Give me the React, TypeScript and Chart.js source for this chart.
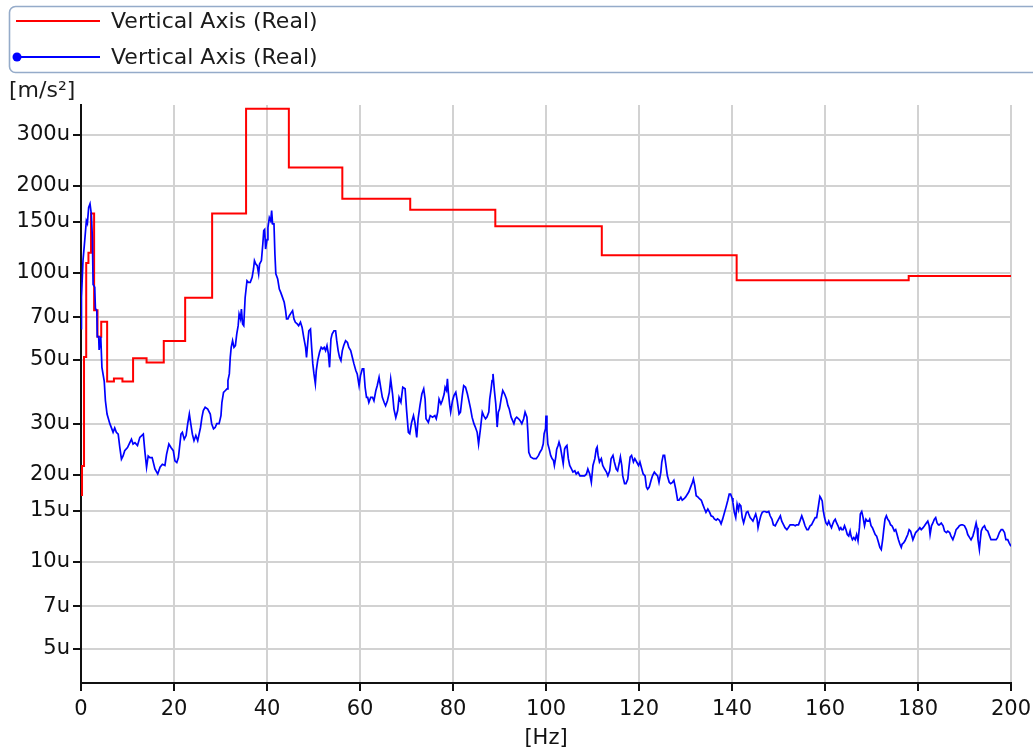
import React, { useEffect, useRef } from "react";
import { Chart, registerables } from "chart.js";

Chart.register(...registerables);

const FONT_FAMILY = '"DejaVu Sans", Verdana, sans-serif';
const FONT_SIZE = 21;
const LEGEND_FONT_SIZE = 22;

const seriesLabels = ["Vertical Axis (Real)", "Vertical Axis (Real)"];
const seriesColors = ["#ff0000", "#0000ff"];
const yUnitLabel = "[m/s²]";
const xUnitLabel = "[Hz]";
const yTickValues = [5, 7, 10, 15, 20, 30, 50, 70, 100, 150, 200, 300];
const yMin = 3.8;
const yMax = 380;
const xMin = 0;
const xMax = 200;
const xStep = 20;

// Red: third-octave band levels (u m/s²), held from each edge to the next
const bandEdgesHz = [
  0, 0.22, 0.65, 1.12, 1.6, 2.15, 2.82, 3.55, 4.35, 5.62, 7.08, 8.91, 11.2,
  14.1, 17.8, 22.4, 28.2, 35.5, 44.7, 56.2, 70.8, 89.1, 112, 141, 178, 200,
];
const bandLevels = [
  17, 21.4, 51, 108, 117, 160, 74, 60, 67.6, 42, 43, 42, 50.5, 48.8, 58, 81.8,
  160, 369, 231, 180, 165, 144.5, 114.7, 94.1, 97.3,
];

// Blue: narrow-band spectrum (u m/s²)
const spectrumHz = [
  0, 0.1, 0.43, 0.8, 1.15, 1.37, 1.65, 1.94, 2.23, 2.45, 2.6, 2.95, 3.1, 3.4,
  3.5, 3.8, 3.9, 4.25, 4.5, 5.0, 5.25, 5.6, 6.2, 6.55, 6.9, 7.25, 7.6, 8.0,
  8.35, 8.7, 9.05, 9.4, 10.0, 10.5, 10.85, 11.2, 11.6, 12.15, 12.65, 13.4,
  13.75, 14.1, 14.45, 14.8, 15.3, 15.9, 16.5, 17.0, 17.5, 18.05, 18.4, 18.9,
  19.35, 19.85, 20.2, 20.6, 20.95, 21.5, 21.8, 22.2, 22.6, 22.95, 23.3, 23.6,
  23.95, 24.3, 24.7, 25.1, 25.4, 25.7, 26.0, 26.3, 26.7, 27.25, 27.8, 28.1,
  28.5, 28.85, 29.2, 29.7, 30.1, 30.3, 30.65, 31.0, 31.4, 31.6, 31.9, 32.1,
  32.3, 32.6, 32.9, 33.2, 33.5, 33.8, 34.0, 34.3, 34.5, 34.75, 35.0, 35.3,
  35.7, 36.0, 36.4, 36.8, 37.1, 37.3, 37.6, 37.9, 38.2, 38.4, 38.8, 39.1,
  39.3, 39.5, 39.7, 40.0, 40.2, 40.5, 40.8, 41.0, 41.2, 41.5, 41.7, 41.9,
  42.3, 42.65, 42.95, 43.2, 43.7, 44.0, 44.2, 44.5, 44.8, 45.25, 45.5, 45.8,
  46.1, 46.5, 46.8, 47.2, 47.55, 47.9, 48.3, 48.5, 48.8, 49.0, 49.35, 49.6,
  49.85, 50.1, 50.4, 50.6, 50.9, 51.3, 51.65, 52.0, 52.3, 52.6, 52.9, 53.2,
  53.45, 53.75, 54.0, 54.4, 54.75, 55.0, 55.3, 55.6, 55.9, 56.2, 56.5, 56.9,
  57.3, 57.6, 58.0, 58.35, 58.7, 59.1, 59.4, 59.8, 60.1, 60.5, 60.8, 61.1,
  61.4, 61.65, 61.9, 62.3, 62.7, 63.0, 63.4, 63.7, 64.1, 64.5, 64.8, 65.2,
  65.5, 65.9, 66.3, 66.6, 67.0, 67.3, 67.7, 68.1, 68.4,
  68.8, 69.2, 69.7, 70.0, 70.4, 70.7, 71.1, 71.5, 71.8, 72.2, 72.5, 72.9,
  73.3, 73.7, 74.0, 74.2, 74.7, 75.1, 75.6, 76.1, 76.4, 76.7, 77.0, 77.4,
  77.7, 78.1, 78.3, 78.6, 78.8, 79.0, 79.3, 79.5, 79.9, 80.2, 80.6, 80.9,
  81.3, 81.6, 82.0, 82.3, 82.7, 83.1, 83.4, 83.8, 84.1, 84.5, 84.8, 85.2,
  85.5, 85.9, 86.3, 86.6, 87.0, 87.3, 87.7, 87.9, 88.2, 88.4, 88.6, 88.9,
  89.2, 89.5, 89.75, 90.0, 90.4, 90.7, 91.1, 91.5, 91.8, 92.1, 92.5, 92.8,
  93.1, 93.4, 93.7, 94.1, 94.4, 94.8, 95.2, 95.5, 95.9, 96.1, 96.3, 96.7,
  97.3, 97.9, 98.4, 98.7, 99.1, 99.4, 99.6, 99.9, 100.0, 100.2, 100.4, 100.7,
  101.0, 101.3, 101.6, 101.8, 102.1, 102.3, 102.6, 102.8, 103.1, 103.4,
  103.7, 104.0, 104.2, 104.5, 104.8, 105.1, 105.5, 105.8, 106.2, 106.5,
  106.9, 107.3, 107.8, 108.3, 108.7, 109.0, 109.4, 109.75, 110.1, 110.5,
  110.8, 111.0, 111.2, 111.5, 111.9, 112.2, 112.6, 113.0, 113.3, 113.7,
  114.0, 114.4, 114.7, 115.1, 115.4, 115.8, 116.0, 116.3, 116.5, 116.9,
  117.2, 117.6, 117.8, 118.1, 118.4, 118.8, 119.1, 119.5, 119.9, 120.2,
  120.6, 120.9, 121.3, 121.6, 121.85, 122.2, 122.6, 122.9, 123.3, 123.6,
  124.0, 124.3, 124.7, 124.9, 125.2, 125.5, 125.8, 126.1, 126.5, 126.8,
  127.2, 127.5, 127.9, 128.3, 128.6, 129.0, 129.3, 129.7, 130.0, 130.4,
  130.7, 131.1, 131.5, 131.7, 132.0, 132.3, 132.7, 133.0, 133.4, 133.7,
  134.1, 134.4, 134.8, 135.2, 135.5, 135.9, 136.2, 136.6, 136.9, 137.3,
  137.65, 138.0, 138.4, 138.7, 139.1, 139.4,
  139.7, 140.0, 140.2, 140.5, 140.8, 141.1, 141.4, 141.6, 141.9, 142.2,
  142.5, 142.8, 143.1, 143.4, 143.6, 143.9, 144.2, 144.5, 144.8, 145.1,
  145.4, 145.6, 145.9, 146.2, 146.5, 146.8, 147.1, 147.5, 147.9, 148.2,
  148.6, 148.9, 149.3, 149.6, 150.0, 150.4, 150.7, 151.1, 151.4, 151.8,
  152.1, 152.5, 152.9, 153.2, 153.6, 153.9, 154.3, 154.6, 155.0, 155.4,
  155.7, 156.1, 156.4, 156.8, 157.1, 157.5, 157.9, 158.2, 158.6, 158.9,
  159.1, 159.4, 159.6, 159.9, 160.2, 160.5, 160.8, 161.1, 161.4, 161.6,
  161.9, 162.2, 162.5, 162.8, 163.1, 163.4, 163.6, 163.9, 164.2, 164.5,
  164.8, 165.1, 165.4, 165.6, 165.9, 166.2, 166.5, 166.8, 167.1, 167.4,
  167.6, 167.9, 168.2, 168.5, 168.8, 169.1, 169.4, 169.6, 169.9, 170.2,
  170.5, 170.8, 171.1, 171.4, 171.8, 172.1, 172.4, 172.6, 172.9, 173.2,
  173.5, 173.8, 174.1, 174.4, 174.6, 174.9, 175.2, 175.5, 175.8, 176.1,
  176.4, 176.6, 176.9, 177.2, 177.5, 177.8, 178.1, 178.4, 178.6, 178.9,
  179.2, 179.5, 179.8, 180.1, 180.4, 180.7, 181.1, 181.4, 181.8, 182.1,
  182.4, 182.6, 182.9, 183.2, 183.5, 183.8, 184.1, 184.4, 184.6, 185.0,
  185.4, 185.7, 186.1, 186.4, 186.8, 187.1, 187.5, 187.9, 188.2, 188.6,
  188.9, 189.3, 189.6, 190.0, 190.4, 190.7, 191.1, 191.4, 191.8, 192.1,
  192.5, 192.7, 192.9, 193.2, 193.4, 193.6, 193.9, 194.3, 194.6, 195.0,
  195.4, 195.7, 196.1, 196.4, 196.8, 197.1, 197.5, 197.9, 198.2, 198.6,
  198.9, 199.3, 199.6, 200.0,
];
const spectrumLevel = [
  64, 82, 110, 129, 151, 148, 168, 173, 159, 132, 91, 89, 75, 74,
  60, 60, 54, 60, 47, 42, 36, 32.4, 30, 29, 28, 29, 28, 27.6,
  24.8, 22.6, 23.2, 24.2, 24.8, 25.8, 26.5, 25.5, 25.8, 25.2, 26.9, 27.6,
  23.9, 21.2, 23.2, 22.9, 22.9, 20.9, 20.1, 21.2, 21.7, 21.5, 23.5, 25.5,
  24.8, 24.2, 22.3, 22, 22.9, 27.6, 28, 26.5, 27.3, 30, 32.4, 30,
  27.6, 26.2, 27.3, 26.2, 27.6, 29.1, 31.5, 33.3, 34.2, 33.7, 32.4, 30,
  28.8, 29.1, 30, 30, 32, 35.5, 38.5, 39, 39.6, 42.3, 44.6, 50.9,
  55.1, 58.1, 55.1, 55.9, 61.3, 65.5, 71.9, 69.1, 74.8, 66.4, 65.5, 82,
  93.7, 92.5, 92.5, 96.3, 102.9, 110, 107, 105.6, 98.9, 107, 110, 125.6,
  139.7, 141, 120.6, 130, 143, 155, 151, 164, 147.5, 147.5, 116, 99,
  95, 87.7, 85.4, 83.2, 78.9, 73.8, 69.1, 69.1, 70.9, 72.8, 73.8, 69.1,
  67.3, 66.4, 65.5, 67.3, 64.6, 59.7, 55.1, 50.9, 58.1, 62.9, 63.8, 55.1,
  48.3, 44.6, 41.2, 45.8, 49.6, 53, 55.1, 54.4, 55.1, 53.7, 55.9, 52.3,
  47, 58.9, 61.3, 62.9, 62.9, 58.1, 53.7, 50.9, 49.6, 53.7, 55.9, 58.1,
  57.3, 55.1, 53.7, 50.9, 48.3, 45.8, 44.6, 40.6, 44, 46.4, 46.4, 40.1,
  37, 37, 35.5, 37, 37, 36, 39, 40.6, 43.4, 39.6, 37, 35.5,
  34.6, 36, 38.5, 42.8, 38, 33.7, 31.5, 33.3, 37,
  35.6, 40.1, 39.6, 33.7, 28, 27.7, 30.3, 32, 30.3, 26.9, 31.2, 34.7,
  38, 39.6, 36.5, 31.2, 30.3, 32, 31.6, 32, 31.2, 32.9, 36.5, 35.1,
  36.1, 38, 40.1, 39.1, 42.9, 38.5, 34.7, 32.9, 36.1, 37.5, 38.5, 36.1,
  32.4, 32.9, 37.5, 40.6, 40.1, 38, 36.1, 33.7, 31.6, 30, 29.2, 28,
  25.5, 28.8, 32.9, 32, 31.2, 31.6, 32.9, 36.5, 39.6, 42.3, 44.6, 39.1,
  35.1, 29.2, 32.9, 33.7, 37, 39.1, 38, 36.5, 34.7, 33.7, 31.6, 30.8,
  30, 31.2, 31.6, 31.2, 30.8, 30, 31.2, 32.9, 31.6, 28, 23.9, 23,
  22.7, 22.7, 23.3, 23.9, 24.5, 25.5, 27.7, 28.8, 32, 28.4, 25.5, 24.5,
  23.3, 22.7, 22.4, 21.5, 23, 24.5, 25.2, 25.9, 24.9, 23.3,
  21.8, 24.5, 24.9, 25.2, 22.7, 21.5, 20.9, 20.4, 20.6, 20.1,
  20.4, 19.8, 19.8, 19.8, 20.1, 20.9, 20.1, 18.8, 21.5, 22.7,
  24.5, 24.9, 23.3, 22.1, 22.7, 21.5, 20.9, 20.4, 19.8, 20.6,
  22.7, 23.3, 22.1, 20.9, 20.6, 22.1, 23, 21.5, 19.8, 18.6,
  18.6, 19.3, 20.9, 23, 23.3, 22.1, 22.7, 22.1, 21.5, 22.1,
  20.9, 20.1, 19.8, 18.1, 17.8, 18.1, 19.1, 19.8, 20.4, 20.1,
  19.8, 18.8, 20.4, 22.1, 23.3, 23.3, 21.5, 19.8, 18.8, 18.6,
  18.8, 19.1, 17.8, 16.3, 16.3, 16.7, 16.3, 16.5, 16.7, 17.1,
  17.4, 18.1, 18.8, 19.3, 18.3, 16.9, 16.7, 16.5, 16.3, 15.8,
  15.2, 14.8, 15.2, 14.8, 14.4, 14.3, 14.05, 13.9, 14.05, 13.9,
  13.5, 14.05, 14.8, 15.4, 16.3, 17.1,
  17.1, 16.6, 16, 14.8, 14.2, 15.8, 15.1, 15.8, 15.6, 14.2,
  13.6, 14.2, 14.8, 14.9, 14.6, 14.2, 14, 13.8, 14.2, 14.6,
  14, 13.1, 13.8, 14.4, 14.8, 14.9, 14.9, 14.8, 14.9, 14.4,
  14, 13.4, 13.3, 13.6, 14, 14.4, 13.8, 13.4, 13.1, 12.9,
  13.1, 13.4, 13.4, 13.4, 13.3, 13.4, 13.4, 13.8, 14.4, 13.8,
  13.3, 12.9, 12.9, 13.3, 13.4, 13.8, 14.2, 14.2, 15.6, 16.8,
  16.6, 16.2, 15.1, 14.2, 13.6, 13.4, 13.8, 13.4, 13.1, 13.4,
  13.8, 14, 13.6, 13.3, 12.9, 13.1, 12.9, 12.9, 13.3, 12.9,
  12.4, 12.25, 12.75, 12.25, 11.9, 12.1, 11.9, 12.4, 11.8, 13.1,
  14.6, 14.9, 14.2, 13.3, 14, 13.8, 13.8, 14, 13.3, 13.1,
  12.75, 12.4, 12.25, 11.8, 11.2, 11, 11.9, 12.75, 14, 14.4,
  14, 13.8, 13.4, 13.3, 13.1, 12.75, 12.9, 12.4, 11.9, 11.5,
  11.2, 11.5, 11.6, 11.8, 12.1, 12.4, 12.9, 12.75, 12.4, 11.9,
  12.25, 12.6, 12.75, 12.9, 13.1, 12.9, 13.1, 13.3, 13.6, 13.8,
  13.3, 12.4, 13.3, 13.6, 14, 14.2, 13.6, 13.4, 13.4, 13.6,
  13.3, 12.75, 12.6, 12.75, 12.6, 12.25, 11.9, 12.4, 12.9, 13.1,
  13.3, 13.4, 13.4, 13.3, 12.9, 12.4, 12.1, 11.9, 12.25, 12.75,
  13.6, 13.1, 11.9, 11, 11.9, 12.75, 13.1, 13.3, 12.9, 12.75,
  12.25, 11.9, 11.9, 11.9, 11.9, 12.1, 12.6, 12.9, 12.9, 12.6,
  11.9, 11.9, 11.6, 11.3,
];

const overlayPlugin = {
  id: "overlayLegend",
  afterDraw(chart: any) {
    const ctx = chart.ctx as CanvasRenderingContext2D;
    ctx.save();
    // legend frame
    ctx.strokeStyle = "#95abc9";
    ctx.lineWidth = 1.6;
    const bx = 9.5, by = 6.5, bw = 1060, bh = 66, r = 6;
    ctx.beginPath();
    ctx.moveTo(bx + r, by);
    ctx.lineTo(bx + bw - r, by);
    ctx.arcTo(bx + bw, by, bx + bw, by + r, r);
    ctx.lineTo(bx + bw, by + bh - r);
    ctx.arcTo(bx + bw, by + bh, bx + bw - r, by + bh, r);
    ctx.lineTo(bx + r, by + bh);
    ctx.arcTo(bx, by + bh, bx, by + bh - r, r);
    ctx.lineTo(bx, by + r);
    ctx.arcTo(bx, by, bx + r, by, r);
    ctx.closePath();
    ctx.stroke();

    const rows = [21, 57];
    ctx.font = `${LEGEND_FONT_SIZE}px ${FONT_FAMILY}`;
    ctx.textBaseline = "middle";
    ctx.textAlign = "left";
    chart.data.datasets.forEach((ds: any, i: number) => {
      const y = rows[i];
      ctx.strokeStyle = ds.borderColor;
      ctx.lineWidth = 2;
      ctx.beginPath();
      ctx.moveTo(16, y);
      ctx.lineTo(100, y);
      ctx.stroke();
      if (ds.legendMarker) {
        ctx.fillStyle = ds.borderColor;
        ctx.beginPath();
        ctx.arc(17, y, 4.5, 0, Math.PI * 2);
        ctx.fill();
      }
      ctx.fillStyle = "#1b1b1b";
      ctx.fillText(ds.label, 111, y + 1);
    });

    // y unit label
    ctx.fillStyle = "#1b1b1b";
    ctx.textBaseline = "middle";
    ctx.fillText(yUnitLabel, 9, 91);
    ctx.restore();
  },
};

export default function App() {
  const canvasRef = useRef<HTMLCanvasElement | null>(null);

  useEffect(() => {
    const canvas = canvasRef.current;
    if (!canvas) return;
    const font = { family: FONT_FAMILY, size: FONT_SIZE, lineHeight: 1.2 };

    const redData = bandEdgesHz.map((x, i) => ({
      x,
      y: bandLevels[Math.min(i, bandLevels.length - 1)],
    }));
    const blueData = spectrumHz.map((x, i) => ({ x, y: spectrumLevel[i] }));

    const chart = new Chart(canvas, {
      type: "line",
      data: {
        datasets: [
          {
            label: seriesLabels[0],
            data: redData,
            borderColor: seriesColors[0],
            borderWidth: 2,
            pointRadius: 0,
            stepped: "before",
            fill: false,
            order: 1,
          } as any,
          {
            label: seriesLabels[1],
            data: blueData,
            borderColor: seriesColors[1],
            borderWidth: 1.7,
            pointRadius: 0,
            tension: 0,
            fill: false,
            order: 0,
            legendMarker: true,
          } as any,
        ],
      },
      options: {
        animation: false,
        responsive: false,
        maintainAspectRatio: false,
        layout: { padding: { left: 0, right: 22, top: 105, bottom: 0 } },
        plugins: {
          legend: { display: false },
          tooltip: { enabled: false },
        },
        scales: {
          x: {
            type: "linear",
            min: xMin,
            max: xMax,
            afterFit: (scale: any) => {
              scale.height = 70;
              scale.paddingLeft = 0;
              scale.paddingRight = 0;
            },
            ticks: {
              stepSize: xStep,
              font,
              color: "#111",
              padding: 6,
              maxRotation: 0,
            },
            grid: {
              color: "#d2d2d2",
              lineWidth: 2,
              tickColor: "#111",
              tickWidth: 2,
              tickLength: 8,
            },
            border: { color: "#111", width: 2 },
            title: {
              display: true,
              text: xUnitLabel,
              font,
              color: "#111",
              padding: { top: 0, bottom: 2 },
            },
          },
          y: {
            type: "logarithmic",
            min: yMin,
            max: yMax,
            afterFit: (scale: any) => {
              scale.width = 81;
              scale.paddingTop = 0;
              scale.paddingBottom = 0;
            },
            afterBuildTicks: (scale: any) => {
              scale.ticks = yTickValues.map((v) => ({ value: v }));
            },
            ticks: {
              font,
              color: "#111",
              padding: 3,
              autoSkip: false,
              callback: (v: any) => `${v}u`,
            },
            grid: {
              color: "#d2d2d2",
              lineWidth: 2,
              tickColor: "#111",
              tickWidth: 2,
              tickLength: 8,
            },
            border: { color: "#111", width: 2 },
          },
        },
      },
      plugins: [overlayPlugin],
    });
    return () => chart.destroy();
  }, []);

  return (
    <div
      style={{
        position: "fixed",
        left: 0,
        top: 0,
        width: 1033,
        height: 753,
        background: "#fff",
      }}
    >
      <canvas ref={canvasRef} width={1033} height={753} />
    </div>
  );
}
